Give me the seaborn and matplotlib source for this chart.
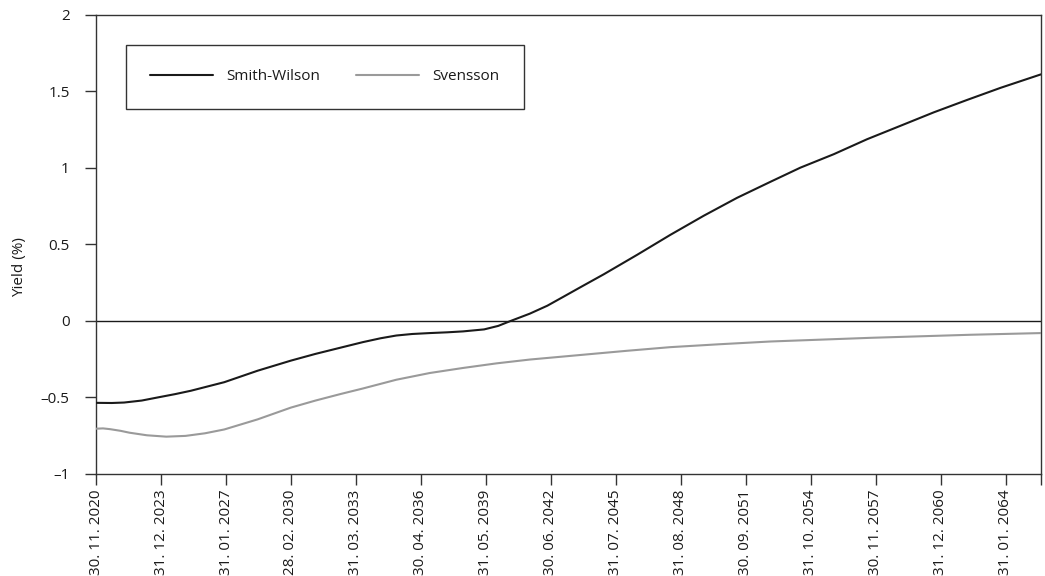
import matplotlib
matplotlib.use("Agg")
import matplotlib.pyplot as plt
import numpy as np
import pandas as pd
import seaborn as sns

# Smith-Wilson yield curve (month, yield in %)
sw_months = ["2020-11", "2021-08", "2022-03", "2023-01", "2023-10", "2024-08",
             "2025-05", "2026-12", "2028-07", "2030-02", "2031-04", "2032-06",
             "2033-07", "2034-05", "2035-02", "2035-11", "2036-09", "2037-07",
             "2038-04", "2039-04", "2039-12", "2040-07", "2041-06", "2042-04",
             "2043-01", "2043-11", "2044-12", "2046-07", "2048-02", "2049-09",
             "2051-04", "2052-11", "2054-04", "2055-11", "2057-06", "2059-01",
             "2060-08", "2062-03", "2063-10", "2065-09"]
sw_yield = [-0.535, -0.536, -0.533, -0.520, -0.500, -0.478,
            -0.456, -0.400, -0.325, -0.259, -0.215, -0.175,
            -0.138, -0.113, -0.095, -0.085, -0.079, -0.074,
            -0.068, -0.055, -0.032, 0.000, 0.048, 0.100,
            0.158, 0.222, 0.305, 0.432, 0.563, 0.688,
            0.805, 0.910, 1.002, 1.090, 1.188, 1.276,
            1.364, 1.445, 1.524, 1.612]

# Svensson yield curve (month, yield in %)
sv_months = ["2020-11", "2021-03", "2021-07", "2022-01", "2022-06", "2023-04",
             "2024-03", "2025-02", "2026-01", "2026-12", "2028-07", "2030-02",
             "2031-04", "2032-06", "2033-07", "2035-02", "2036-09", "2038-04",
             "2039-11", "2041-06", "2043-11", "2046-01", "2048-02", "2050-06",
             "2052-11", "2057-08", "2062-05", "2065-09"]
sv_yield = [-0.704, -0.702, -0.707, -0.718, -0.730, -0.747,
            -0.756, -0.751, -0.734, -0.709, -0.643, -0.566,
            -0.520, -0.478, -0.441, -0.384, -0.340, -0.307,
            -0.277, -0.252, -0.222, -0.195, -0.171, -0.152,
            -0.134, -0.110, -0.090, -0.079]

# Axis ticks
tick_months = ["2020-11", "2023-12", "2027-01", "2030-02", "2033-03", "2036-04",
               "2039-05", "2042-06", "2045-07", "2048-08", "2051-09", "2054-10",
               "2057-11", "2060-12", "2064-01"]
axis_end_month = "2065-09"
y_ticks = [-1, -0.5, 0, 0.5, 1, 1.5, 2]
y_tick_labels = ["–1", "–0.5", "0", "0.5", "1", "1.5", "2"]


def month_end(months):
    return pd.to_datetime(months) + pd.offsets.MonthEnd(0)


df = pd.concat([
    pd.DataFrame({"date": month_end(sw_months), "yield": sw_yield, "series": "Smith-Wilson"}),
    pd.DataFrame({"date": month_end(sv_months), "yield": sv_yield, "series": "Svensson"}),
], ignore_index=True)

sns.set_theme(style="white")
plt.rcParams["font.family"] = ["Open Sans", "DejaVu Sans"]
plt.rcParams["axes.unicode_minus"] = False

FS = 11

fig, ax = plt.subplots(figsize=(10.45, 5.76), dpi=100)
fig.subplots_adjust(left=0.0919, right=0.9962, top=0.974, bottom=0.1771)

ax.axhline(0, color="#1a1a1a", lw=1.0, zorder=1)

sns.lineplot(data=df, x="date", y="yield", hue="series",
             palette={"Smith-Wilson": "#1a1a1a", "Svensson": "#9a9a9a"},
             lw=1.5, ax=ax, zorder=3)

start = month_end(["2020-11"])[0]
end = month_end([axis_end_month])[0]
ax.set_xlim(start, end)
ax.set_ylim(-1, 2)

ticks = month_end(tick_months)
ax.set_xticks(ticks)
ax.set_xticklabels([f"{d.day}. {d.month:02d}. {d.year}" for d in ticks],
                   rotation=90, fontsize=FS, color="#1a1a1a")
ax.set_xticks([end], minor=True)
ax.set_yticks(y_ticks)
ax.set_yticklabels(y_tick_labels, fontsize=FS, color="#1a1a1a")

ax.tick_params(axis="both", which="both", direction="out", length=8,
               width=1, color="#333333", bottom=True, left=True)
ax.tick_params(axis="x", which="both", pad=3)
ax.tick_params(axis="y", pad=11)
for s in ax.spines.values():
    s.set_visible(True)
    s.set_color("#333333")
    s.set_linewidth(1)

ax.set_xlabel("")
ax.set_ylabel("Yield (%)", fontsize=FS, color="#1a1a1a")
ax.yaxis.set_label_coords(-0.073, 0.45)

leg = ax.legend(loc="upper left", bbox_to_anchor=(0.0317, 0.9346),
                ncol=2, frameon=True, fancybox=False, fontsize=FS,
                borderaxespad=0, borderpad=1.6, handlelength=4.1,
                handletextpad=0.87, columnspacing=2.35)
leg.get_frame().set_edgecolor("#333333")
leg.get_frame().set_linewidth(1)
leg.get_frame().set_alpha(1)
for t in leg.get_texts():
    t.set_color("#1a1a1a")

fig.savefig("out.png", dpi=100, facecolor="white")
